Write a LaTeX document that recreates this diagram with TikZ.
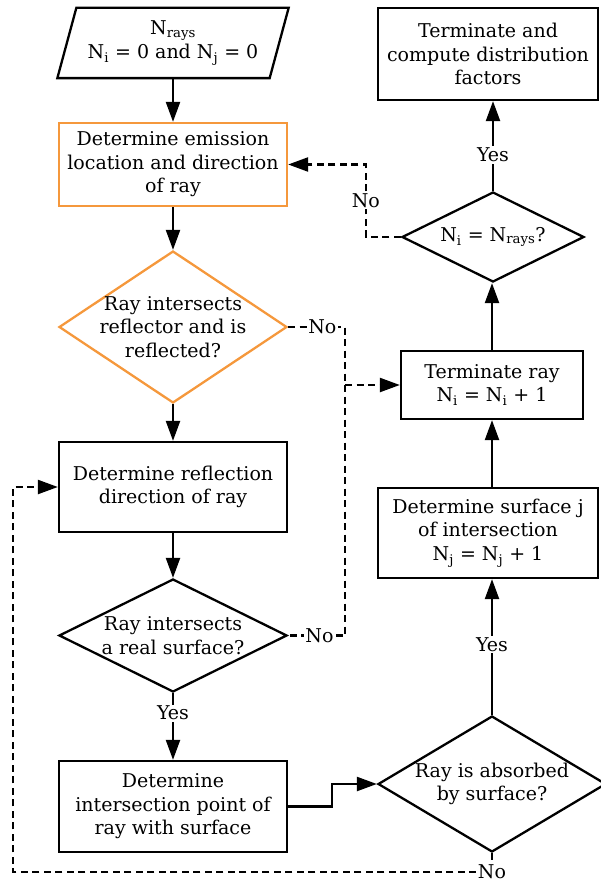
\documentclass[tikz,border=0pt]{standalone}
\usepackage{fontspec}
\setmainfont{DejaVu Serif}
\usetikzlibrary{shapes.geometric,arrows.meta,calc}
\definecolor{orng}{RGB}{245,152,60}
\begin{document}
\begin{tikzpicture}[x=1pt,y=-1pt, line width=2.3pt,
  font=\fontsize{19}{23.5}\selectfont,
  box/.style={draw, rectangle, align=center, inner sep=0pt},
  obox/.style={box, draw=orng},
  dec/.style={draw, diamond, inner sep=0pt},
  txt/.style={align=center, inner sep=0pt},
  arr/.style={-{Triangle[length=20pt,width=14pt]}},
  dsh/.style={dash pattern=on 7pt off 4.5pt},
  lbl/.style={fill=white, inner sep=1.5pt}]
\useasboundingbox (0,0) rectangle (600,882);
% left column
\node[txt, minimum width=229pt, minimum height=68pt] (in) at (173,43)
  {N\textsubscript{rays}\\N\textsubscript{i} = 0 and N\textsubscript{j} = 0};
\draw ([xshift=19pt]in.north west) -- (in.north east)
  -- ([xshift=-19pt]in.south east) -- (in.south west) -- cycle;
\node[obox, minimum width=228pt, minimum height=83pt] (emit) at (173,164.5)
  {Determine emission\\location and direction\\of ray};
\node[dec, draw=orng, minimum width=228pt, minimum height=152pt] (d1) at (173,327) {};
\node[txt] (d1t) at (d1) {Ray intersects\\reflector and is\\reflected?};
\node[box, minimum width=228pt, minimum height=90pt] (refl) at (173,487)
  {Determine reflection\\direction of ray};
\node[dec, minimum width=228pt, minimum height=113pt] (d2) at (173,635.5) {};
\node[txt] (d2t) at (d2) {Ray intersects\\a real surface?};
\node[box, minimum width=228pt, minimum height=91pt] (isect) at (173,806.5)
  {Determine\\intersection point of\\ray with surface};
% right column
\node[box, minimum width=220pt, minimum height=92pt] (fin) at (488,54)
  {Terminate and\\compute distribution\\factors};
\node[dec, minimum width=182pt, minimum height=90pt] (dn) at (493,237) {};
\node[txt] (dnt) at (dn) {N\textsubscript{i} = N\textsubscript{rays}?};
\node[box, minimum width=182pt, minimum height=68pt] (term) at (492,385)
  {Terminate ray\\N\textsubscript{i} = N\textsubscript{i} + 1};
\node[box, minimum width=220pt, minimum height=90pt] (surf) at (488,533)
  {Determine surface j\\of intersection\\N\textsubscript{j} = N\textsubscript{j} + 1};
\node[dec, minimum width=228pt, minimum height=136pt] (d3) at (492,784) {};
\node[txt] (d3t) at (d3) {Ray is absorbed\\by surface?};
% solid connectors
\draw[arr] (in.south) -- (emit.north);
\draw[arr] (emit.south) -- (d1.north);
\draw[arr] (d1.south) -- (refl.north);
\draw[arr] (refl.south) -- (d2.north);
\draw[arr] (d2.south) -- node[lbl, pos=0.3] (y1) {Yes} (isect.north);
\draw[arr] (isect.east) -- ++(44,0) |- (d3.west);
\draw[arr] (d3.north) -- node[lbl, pos=0.52] (y2) {Yes} (d3.north |- surf.south);
\draw[arr] (d3.north |- surf.north) -- (d3.north |- term.south);
\draw[arr] (term.north) -- (term.north |- dn.south);
\draw[arr] (dn.north) -- node[lbl, pos=0.4] (y3) {Yes} (dn.north |- fin.south);
% dashed connectors
\draw[dsh, arr] (dn.west) -- ++(-35,0) coordinate (c1)
  -- node[lbl] (n1) {No} (c1 |- emit.east) -- (emit.east);
\draw[dsh] (d1.east) -- node[lbl, pos=0.6] (n2) {No} ++(57,0) coordinate (c2)
  -- (c2 |- d2.east) -- node[lbl, pos=0.45] (n3) {No} (d2.east);
\draw[dsh, arr] (c2 |- term.west) -- (term.west);
\coordinate (lb) at (13,872);
\draw[dsh, arr] (d3.south) -- (d3.south |- lb) -- (lb) |- (refl.west);
\node[lbl] (n4) at (d3.south |- lb) {No};
\end{tikzpicture}
\end{document}
